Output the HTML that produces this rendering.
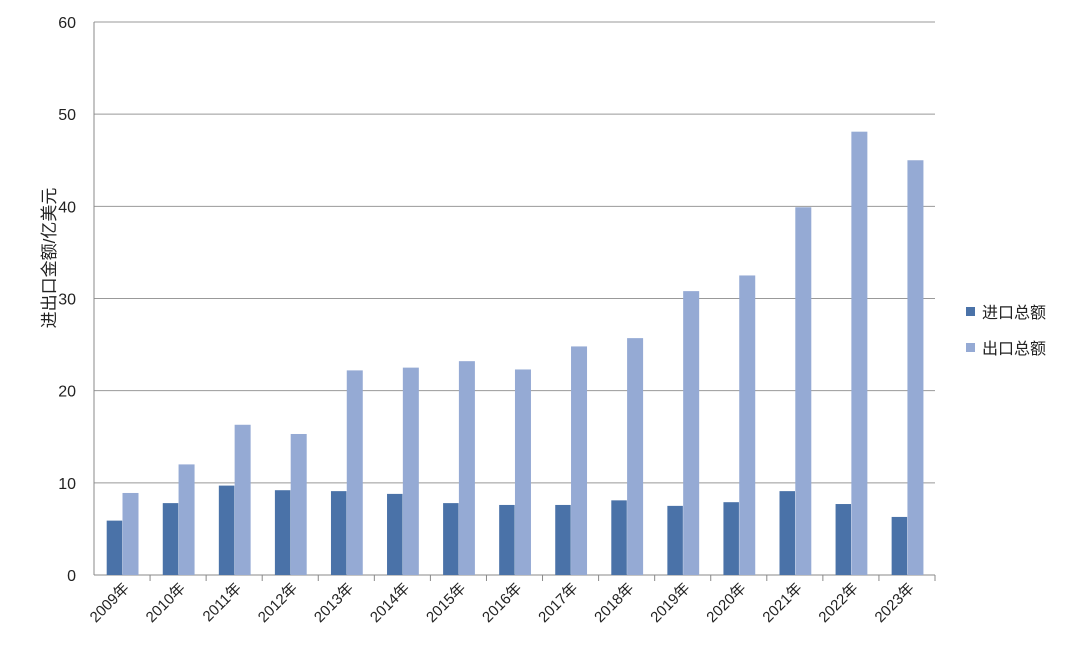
<!DOCTYPE html>
<html><head><meta charset="utf-8"><style>
body{margin:0;background:#fff;}
svg text{font-family:"Liberation Sans","Noto Sans CJK SC",sans-serif;fill:#222;}
</style></head><body>
<svg id="c" width="1080" height="661"></svg>
<script>
const categories=["2009年","2010年","2011年","2012年","2013年","2014年","2015年","2016年","2017年","2018年","2019年","2020年","2021年","2022年","2023年"];
const importValues=[5.9,7.8,9.7,9.2,9.1,8.8,7.8,7.6,7.6,8.1,7.5,7.9,9.1,7.7,6.3];
const exportValues=[8.9,12.0,16.3,15.3,22.2,22.5,23.2,22.3,24.8,25.7,30.8,32.5,39.9,48.1,45.0];
const yTicks=[0,10,20,30,40,50,60];
const NS="http://www.w3.org/2000/svg";
const svg=document.getElementById('c');
const x0=94,x1=935,yb=575,yt=22,ymax=60;
const cw=(x1-x0)/categories.length;
const y=v=>yb-(v/ymax)*(yb-yt);
const xc=i=>x0+i*cw;
function mk(t,a,txt){const e=document.createElementNS(NS,t);for(const k in a)e.setAttribute(k,a[k]);if(txt!==undefined)e.textContent=txt;svg.appendChild(e);return e;}
yTicks.forEach(t=>{
 const g=mk('line',{x1:x0,x2:x1,y1:y(t),y2:y(t),stroke:t===0?'#888':'#999','stroke-width':1});
 
 
 const l=mk('text',{x:76,y:y(t)+6,'text-anchor':'end','font-size':16},String(t));
 
 
});
const ax=mk('line',{x1:x0,x2:x0,y1:yt,y2:yb,stroke:'#888'});


categories.forEach((c,i)=>{
 const tk=mk('line',{x1:xc(i+1),x2:xc(i+1),y1:yb,y2:yb+6,stroke:'#888'});
 
 
 const b1=mk('rect',{x:xc(i)+12.7,y:y(importValues[i]),width:15.5,height:yb-y(importValues[i]),fill:'#4a72a8'});
 
 
 const b2=mk('rect',{x:xc(i)+28.5,y:y(exportValues[i]),width:16,height:yb-y(exportValues[i]),fill:'#95aad4'});
 
 
 const cx=xc(i)+cw/2+8,cy=yb+14;
 const t=mk('text',{x:cx,y:cy,'text-anchor':'end','font-size':15,transform:`rotate(-45 ${cx} ${cy})`},c);
 
 
});
const yt2=mk('text',{x:55,y:258,'text-anchor':'middle','font-size':17,transform:'rotate(-90 55 258)'},'进出口金额/亿美元');


[['进口总额','#4a72a8',312],['出口总额','#95aad4',348]].forEach(([n,col,ly],k)=>{
 const r=mk('rect',{x:966,y:ly-5,width:9,height:9,fill:col});
 
 
 const t=mk('text',{x:982,y:ly+6,'font-size':16},n);
 
 
});
</script>
</body></html>
